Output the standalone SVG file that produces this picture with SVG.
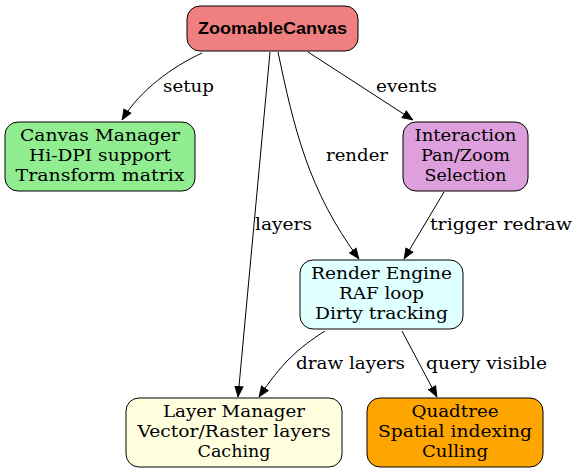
<svg xmlns="http://www.w3.org/2000/svg" width="577" height="475" viewBox="0 0 577 475">
<style>
.n rect{stroke:#000;stroke-width:1}
.t{font-family:"DejaVu Serif",serif;font-size:16px;text-anchor:middle;fill:#000}
.b{font-family:"Liberation Sans",Arial,sans-serif;font-size:16px;font-weight:bold;text-anchor:middle;fill:#000}
.e path{fill:none;stroke:#000;stroke-width:1}
.l{font-family:"DejaVu Serif",serif;font-size:16px;text-anchor:middle;fill:#000}
</style>
<defs>
<marker id="a" viewBox="0 0 11 10" refX="11" refY="5" markerWidth="11" markerHeight="10" markerUnits="userSpaceOnUse" orient="auto">
<path d="M0.5,1 L10.5,5 L0.5,9 Z" fill="#000" stroke="#000" stroke-width="1"/>
</marker>
</defs>
<rect width="577" height="475" fill="#fff"/>
<g class="e" id="edges">
<path d="M202,53 C172,67 140,90 122,120" marker-end="url(#a)"/>
<path d="M308,52 L413,120" marker-end="url(#a)"/>
<path d="M278,52 C294,128 308,190 359,259" marker-end="url(#a)"/>
<path d="M270,52 L238,397" marker-end="url(#a)"/>
<path d="M444,192 L404,259" marker-end="url(#a)"/>
<path d="M325,331 C298,348 281,364 259,397" marker-end="url(#a)"/>
<path d="M402,331 L437,397" marker-end="url(#a)"/>
<text class="l" x="188.5" y="92" textLength="51" lengthAdjust="spacingAndGlyphs">setup</text>
<text class="l" x="406.5" y="92" textLength="61" lengthAdjust="spacingAndGlyphs">events</text>
<text class="l" x="357" y="161" textLength="62" lengthAdjust="spacingAndGlyphs">render</text>
<text class="l" x="283.5" y="230" textLength="57" lengthAdjust="spacingAndGlyphs">layers</text>
<text class="l" x="501" y="230" textLength="142" lengthAdjust="spacingAndGlyphs">trigger redraw</text>
<text class="l" x="350.5" y="369" textLength="109" lengthAdjust="spacingAndGlyphs">draw layers</text>
<text class="l" x="486.5" y="369" textLength="121" lengthAdjust="spacingAndGlyphs">query visible</text>
</g>
<g class="n" id="zoomable">
<rect x="187" y="6" width="171" height="45" rx="13" fill="#F08080"/>
<text class="b" x="272.5" y="34" textLength="149" lengthAdjust="spacingAndGlyphs">ZoomableCanvas</text>
</g>
<g class="n" id="canvas">
<rect x="5" y="122" width="190" height="69" rx="13" fill="#90EE90"/>
<text class="t" x="100" y="141" textLength="160" lengthAdjust="spacingAndGlyphs">Canvas Manager</text>
<text class="t" x="100" y="161" textLength="142" lengthAdjust="spacingAndGlyphs">Hi-DPI support</text>
<text class="t" x="100" y="181" textLength="169" lengthAdjust="spacingAndGlyphs">Transform matrix</text>
</g>
<g class="n" id="interaction">
<rect x="403" y="122" width="125" height="69" rx="13" fill="#DDA0DD"/>
<text class="t" x="465.5" y="141" textLength="102" lengthAdjust="spacingAndGlyphs">Interaction</text>
<text class="t" x="465.5" y="161" textLength="89" lengthAdjust="spacingAndGlyphs">Pan/Zoom</text>
<text class="t" x="465.5" y="181" textLength="82" lengthAdjust="spacingAndGlyphs">Selection</text>
</g>
<g class="n" id="render">
<rect x="300" y="260" width="163" height="69" rx="13" fill="#E0FFFF"/>
<text class="t" x="381.5" y="279" textLength="141" lengthAdjust="spacingAndGlyphs">Render Engine</text>
<text class="t" x="381.5" y="299" textLength="85" lengthAdjust="spacingAndGlyphs">RAF loop</text>
<text class="t" x="381.5" y="319" textLength="133" lengthAdjust="spacingAndGlyphs">Dirty tracking</text>
</g>
<g class="n" id="layer">
<rect x="126" y="398" width="216" height="69" rx="13" fill="#FFFFE0"/>
<text class="t" x="234" y="417" textLength="142" lengthAdjust="spacingAndGlyphs">Layer Manager</text>
<text class="t" x="234" y="437" textLength="193" lengthAdjust="spacingAndGlyphs">Vector/Raster layers</text>
<text class="t" x="234" y="457" textLength="73" lengthAdjust="spacingAndGlyphs">Caching</text>
</g>
<g class="n" id="quadtree">
<rect x="367" y="398" width="176" height="69" rx="13" fill="#FFA500"/>
<text class="t" x="455" y="417" textLength="87" lengthAdjust="spacingAndGlyphs">Quadtree</text>
<text class="t" x="455" y="437" textLength="154" lengthAdjust="spacingAndGlyphs">Spatial indexing</text>
<text class="t" x="455" y="457" textLength="66" lengthAdjust="spacingAndGlyphs">Culling</text>
</g>
</svg>
